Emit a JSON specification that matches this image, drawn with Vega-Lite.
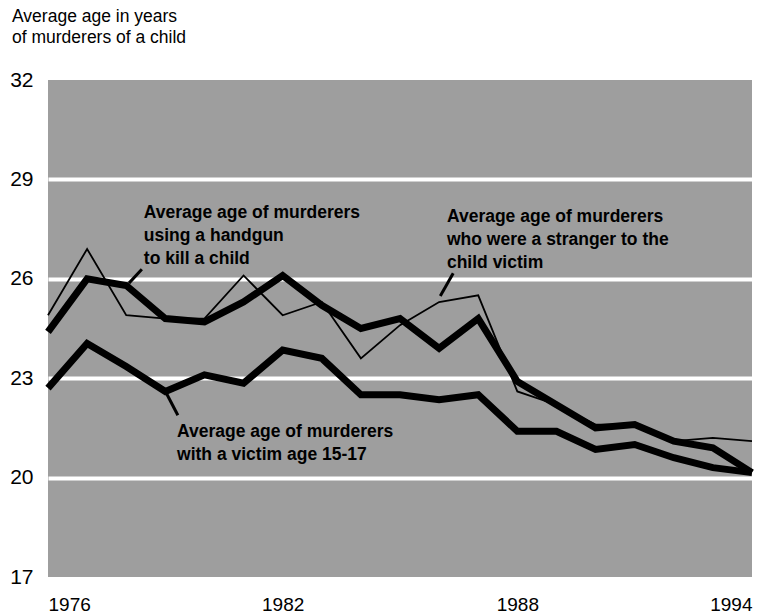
{
  "$schema": "https://vega.github.io/schema/vega-lite/v6.json",
  "width": 704,
  "height": 497,
  "autosize": {"type": "none"},
  "padding": {"left": 48, "top": 80, "right": 9, "bottom": 39},
  "background": "white",
  "config": {
    "view": {"fill": "#9e9e9e", "stroke": null},
    "font": "Liberation Sans"
  },
  "title": {
    "text": ["Average age in years", "of murderers of a child"],
    "anchor": "start",
    "frame": "group",
    "dx": -36,
    "offset": 23,
    "fontSize": 17.5,
    "fontWeight": "normal",
    "lineHeight": 21,
    "font": "Liberation Sans",
    "color": "black"
  },
  "datasets": {
    "series": [
      {"series": "handgun", "year": 1976, "age": 24.4},
      {"series": "handgun", "year": 1977, "age": 26.0},
      {"series": "handgun", "year": 1978, "age": 25.8},
      {"series": "handgun", "year": 1979, "age": 24.8},
      {"series": "handgun", "year": 1980, "age": 24.7},
      {"series": "handgun", "year": 1981, "age": 25.3},
      {"series": "handgun", "year": 1982, "age": 26.1},
      {"series": "handgun", "year": 1983, "age": 25.2},
      {"series": "handgun", "year": 1984, "age": 24.5},
      {"series": "handgun", "year": 1985, "age": 24.8},
      {"series": "handgun", "year": 1986, "age": 23.9},
      {"series": "handgun", "year": 1987, "age": 24.8},
      {"series": "handgun", "year": 1988, "age": 22.9},
      {"series": "handgun", "year": 1989, "age": 22.2},
      {"series": "handgun", "year": 1990, "age": 21.5},
      {"series": "handgun", "year": 1991, "age": 21.6},
      {"series": "handgun", "year": 1992, "age": 21.1},
      {"series": "handgun", "year": 1993, "age": 20.9},
      {"series": "handgun", "year": 1994, "age": 20.15},
      {"series": "stranger", "year": 1976, "age": 24.9},
      {"series": "stranger", "year": 1977, "age": 26.9},
      {"series": "stranger", "year": 1978, "age": 24.9},
      {"series": "stranger", "year": 1979, "age": 24.8},
      {"series": "stranger", "year": 1980, "age": 24.8},
      {"series": "stranger", "year": 1981, "age": 26.1},
      {"series": "stranger", "year": 1982, "age": 24.9},
      {"series": "stranger", "year": 1983, "age": 25.3},
      {"series": "stranger", "year": 1984, "age": 23.6},
      {"series": "stranger", "year": 1985, "age": 24.6},
      {"series": "stranger", "year": 1986, "age": 25.3},
      {"series": "stranger", "year": 1987, "age": 25.5},
      {"series": "stranger", "year": 1988, "age": 22.6},
      {"series": "stranger", "year": 1989, "age": 22.2},
      {"series": "stranger", "year": 1990, "age": 21.6},
      {"series": "stranger", "year": 1991, "age": 21.6},
      {"series": "stranger", "year": 1992, "age": 21.1},
      {"series": "stranger", "year": 1993, "age": 21.2},
      {"series": "stranger", "year": 1994, "age": 21.1},
      {"series": "victim", "year": 1976, "age": 22.7},
      {"series": "victim", "year": 1977, "age": 24.05},
      {"series": "victim", "year": 1978, "age": 23.35},
      {"series": "victim", "year": 1979, "age": 22.6},
      {"series": "victim", "year": 1980, "age": 23.1},
      {"series": "victim", "year": 1981, "age": 22.85},
      {"series": "victim", "year": 1982, "age": 23.85},
      {"series": "victim", "year": 1983, "age": 23.6},
      {"series": "victim", "year": 1984, "age": 22.5},
      {"series": "victim", "year": 1985, "age": 22.5},
      {"series": "victim", "year": 1986, "age": 22.35},
      {"series": "victim", "year": 1987, "age": 22.5},
      {"series": "victim", "year": 1988, "age": 21.4},
      {"series": "victim", "year": 1989, "age": 21.4},
      {"series": "victim", "year": 1990, "age": 20.85},
      {"series": "victim", "year": 1991, "age": 21.0},
      {"series": "victim", "year": 1992, "age": 20.6},
      {"series": "victim", "year": 1993, "age": 20.3},
      {"series": "victim", "year": 1994, "age": 20.15}
    ],
    "labels": [
      {"year": 1978.45, "age": 28.25, "text": "Average age of murderers\nusing a handgun\nto kill a child"},
      {"year": 1986.2, "age": 28.15, "text": "Average age of murderers\nwho were a stranger to the\nchild victim"},
      {"year": 1979.3, "age": 21.65, "text": "Average age of murderers\nwith a victim age 15-17"}
    ],
    "leaders": [
      {"year": 1978.07, "age": 25.87, "year2": 1978.4, "age2": 26.29},
      {"year": 1986.03, "age": 25.48, "year2": 1986.36, "age2": 26.17},
      {"year": 1978.99, "age": 22.63, "year2": 1979.32, "age2": 21.88}
    ]
  },
  "layer": [
    {
      "data": {"name": "series"},
      "transform": [{"filter": "datum.series != 'stranger'"}],
      "mark": {"type": "line", "color": "black", "strokeWidth": 7, "strokeJoin": "miter", "strokeCap": "butt"},
      "encoding": {
        "x": {
          "field": "year", "type": "quantitative",
          "scale": {"domain": [1976, 1994], "nice": false, "zero": false},
          "axis": {
            "values": [1976, 1982, 1988, 1994], "format": "d", "title": null,
            "grid": false, "domain": false, "ticks": false,
            "labelFontSize": 19, "labelPadding": 18, "labelDx": -5,
            "labelColor": "black", "labelFont": "Liberation Sans"
          }
        },
        "y": {
          "field": "age", "type": "quantitative",
          "scale": {"domain": [17, 32], "nice": false, "zero": false},
          "axis": {
            "values": [17, 20, 23, 26, 29, 32], "title": null,
            "grid": true, "gridColor": "white", "gridWidth": 4,
            "gridOpacity": {"condition": {"test": "datum.value == 17 || datum.value == 32", "value": 0}, "value": 1},
            "domain": false, "ticks": false,
            "labelFontSize": 21, "labelPadding": 15, "labelDy": 2,
            "labelColor": "black", "labelFont": "Liberation Sans"
          }
        },
        "detail": {"field": "series"}
      }
    },
    {
      "data": {"name": "series"},
      "transform": [{"filter": "datum.series == 'stranger'"}],
      "mark": {"type": "line", "color": "black", "strokeWidth": 1.8, "strokeJoin": "miter"},
      "encoding": {
        "x": {"field": "year", "type": "quantitative"},
        "y": {"field": "age", "type": "quantitative"}
      }
    },
    {
      "data": {"name": "leaders"},
      "mark": {"type": "rule", "color": "black", "strokeWidth": 3},
      "encoding": {
        "x": {"field": "year", "type": "quantitative"},
        "y": {"field": "age", "type": "quantitative"},
        "x2": {"field": "year2"},
        "y2": {"field": "age2"}
      }
    },
    {
      "data": {"name": "labels"},
      "mark": {
        "type": "text", "align": "left", "baseline": "top", "lineBreak": "\n",
        "fontSize": 17.5, "fontWeight": "bold", "lineHeight": 23, "color": "black",
        "font": "Liberation Sans"
      },
      "encoding": {
        "x": {"field": "year", "type": "quantitative"},
        "y": {"field": "age", "type": "quantitative"},
        "text": {"field": "text"}
      }
    }
  ]
}
